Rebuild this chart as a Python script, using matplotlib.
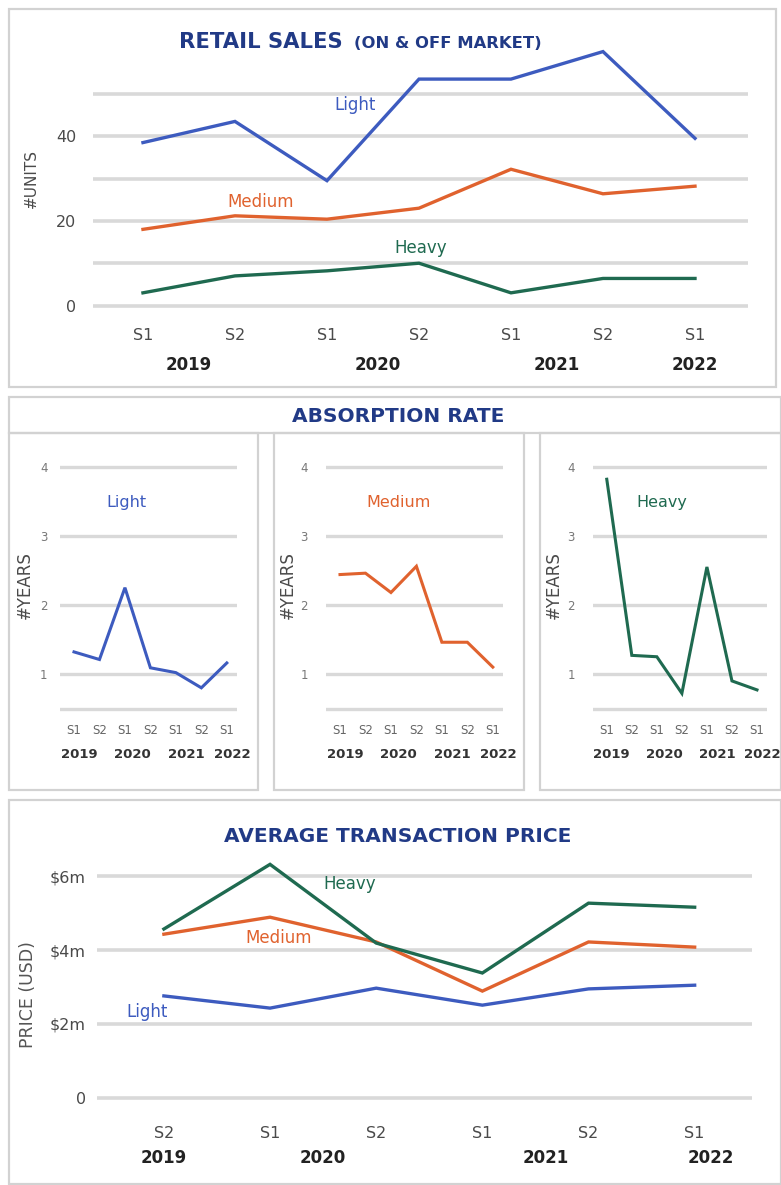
import matplotlib
matplotlib.use("Agg")
import matplotlib.pyplot as plt
from matplotlib.patches import Rectangle
import matplotlib.transforms as mtransforms

plt.rcParams['font.family'] = ['DejaVu Sans']

# ---------------- data ----------------
retail_ticks = ["S1", "S2", "S1", "S2", "S1", "S2", "S1"]
retail_years = ["2019", "2020", "2021", "2022"]
retail_year_pos = [0.5, 2.55, 4.5, 6.0]
retail_light = [38.5, 43.5, 29.5, 53.5, 53.5, 60.0, 39.5]
retail_medium = [18.0, 21.2, 20.4, 23.0, 32.2, 26.4, 28.2]
retail_heavy = [3.0, 7.0, 8.2, 10.0, 3.0, 6.4, 6.4]

abs_ticks = ["S1", "S2", "S1", "S2", "S1", "S2", "S1"]
abs_years = ["2019", "2020", "2021", "2022"]
abs_year_pos = [0.2, 2.3, 4.4, 6.2]
abs_light = [1.32, 1.21, 2.25, 1.09, 1.02, 0.80, 1.16]
abs_medium = [2.44, 2.46, 2.18, 2.56, 1.46, 1.46, 1.10]
abs_heavy = [3.82, 1.27, 1.25, 0.72, 2.55, 0.90, 0.77]

price_ticks = ["S2", "S1", "S2", "S1", "S2", "S1"]
price_years = ["2019", "2020", "2021", "2022"]
price_year_pos = [0.0, 1.5, 3.6, 5.15]
price_light = [2.76, 2.43, 2.97, 2.51, 2.95, 3.05]
price_medium = [4.43, 4.89, 4.22, 2.89, 4.22, 4.08]
price_heavy = [4.57, 6.32, 4.19, 3.38, 5.27, 5.16]

C_LIGHT = "#3d5bbf"
C_MED = "#e0622e"
C_HEAVY = "#1f6a50"
C_TITLE = "#213a86"
C_GRID = "#d9d9d9"
C_TICK = "#4a4a4a"
C_BOX = "#d2d2d2"

W, H = 781, 1185
fig = plt.figure(figsize=(W / 100, H / 100), dpi=100)
fig.patch.set_facecolor("white")


def rect(x0, y0, x1, y1):
    return [x0 / W, 1 - y1 / H, (x1 - x0) / W, (y1 - y0) / H]


def box(x0, y0, x1, y1):
    fig.patches.append(Rectangle((x0 / W, 1 - y1 / H), (x1 - x0) / W, (y1 - y0) / H,
                                 transform=fig.transFigure, fill=False,
                                 edgecolor=C_BOX, linewidth=1.6, zorder=0))


def style(ax):
    for s in ax.spines.values():
        s.set_visible(False)
    ax.tick_params(length=0)
    ax.set_facecolor("none")


# panel boxes
box(9, 9, 776, 387)
box(9, 397, 781, 433)
box(9, 433, 258, 790)
box(274, 433, 524, 790)
box(540, 433, 781, 790)
box(9, 800, 781, 1184)

# ---------------- top: retail sales ----------------
ax = fig.add_axes(rect(93, 41, 748, 314))
style(ax)
x = list(range(len(retail_ticks)))
ax.set_xlim(-0.543, 6.576)
ax.set_ylim(-2.0, 62.5)
for g in [0, 10, 20, 30, 40, 50]:
    ax.axhline(g, color=C_GRID, lw=2.6, zorder=1)
ax.plot(x, retail_light, color=C_LIGHT, lw=2.4, zorder=3, solid_joinstyle="miter")
ax.plot(x, retail_medium, color=C_MED, lw=2.4, zorder=3, solid_joinstyle="miter")
ax.plot(x, retail_heavy, color=C_HEAVY, lw=2.4, zorder=3, solid_joinstyle="miter")
ax.set_yticks([0, 20, 40])
ax.set_yticklabels(["0", "20", "40"], fontsize=11.5, color=C_TICK)
ax.tick_params(axis="y", pad=12)
ax.set_xticks(x)
ax.set_xticklabels(retail_ticks, fontsize=11.5, color=C_TICK)
ax.tick_params(axis="x", pad=10)
ax.set_ylabel("#UNITS", fontsize=11, color=C_TICK)
ax.yaxis.set_label_coords((39 - 93) / (748 - 93), (314 - 178) / (314 - 41))
tr = mtransforms.blended_transform_factory(ax.transData, fig.transFigure)
for yl, xp in zip(retail_years, retail_year_pos):
    ax.text(xp, 1 - 365 / H, yl, transform=tr, ha="center", va="center",
            fontsize=12, fontweight="bold", color="#222222")
ax.text(2.3, 47.3, "Light", color=C_LIGHT, fontsize=12, ha="center", va="center")
ax.text(1.28, 24.5, "Medium", color=C_MED, fontsize=12, ha="center", va="center")
ax.text(3.02, 13.5, "Heavy", color=C_HEAVY, fontsize=12, ha="center", va="center")
fig.text(350 / W, 1 - 42 / H, "RETAIL SALES ", ha="right", va="center",
         fontsize=15.2, fontweight="bold", color=C_TITLE)
fig.text(354 / W, 1 - 43 / H, "(ON & OFF MARKET)", ha="left", va="center",
         fontsize=11.8, fontweight="bold", color=C_TITLE)

# ---------------- middle: absorption rate ----------------
fig.text(398 / W, 1 - 416 / H, "ABSORPTION RATE", ha="center", va="center",
         fontsize=14.5, fontweight="bold", color=C_TITLE)

panels = [
    (60, 237, abs_light, C_LIGHT, "Light", 47, 34, 2.05),
    (326, 503, abs_medium, C_MED, "Medium", 309, 297, 2.3),
    (593, 767, abs_heavy, C_HEAVY, "Heavy", 576, 563, 2.2),
]
for (gx0, gx1, vals, col, name, lx, ylx, namex) in panels:
    a = fig.add_axes(rect(gx0, 453, gx1, 712))
    style(a)
    xs = list(range(len(abs_ticks)))
    a.set_xlim(-0.55, 6.4)
    a.set_ylim(0.45, 4.2)
    for g in [0.5, 1, 2, 3, 4]:
        a.axhline(g, color=C_GRID, lw=2.4, zorder=1)
    a.plot(xs, vals, color=col, lw=2.2, zorder=3, solid_joinstyle="miter")
    a.set_yticks([1, 2, 3, 4])
    a.set_yticklabels(["1", "2", "3", "4"], fontsize=8.5, color="#777777")
    a.tick_params(axis="y", pad=(gx0 - lx) - 4)
    a.set_xticks(xs)
    a.set_xticklabels(abs_ticks, fontsize=8.5, color="#666666")
    a.tick_params(axis="x", pad=9)
    a.set_ylabel("#YEARS", fontsize=12, color=C_TICK)
    a.yaxis.set_label_coords((ylx - gx0) / (gx1 - gx0), (712 - 585) / (712 - 453))
    tr = mtransforms.blended_transform_factory(a.transData, fig.transFigure)
    for yl, xp in zip(abs_years, abs_year_pos):
        a.text(xp, 1 - 755 / H, yl, transform=tr, ha="center", va="center",
               fontsize=9.5, fontweight="bold", color="#333333")
    a.text(namex, 3.49, name, color=col, fontsize=11.5, ha="center", va="center")

# ---------------- bottom: average transaction price ----------------
fig.text(398 / W, 1 - 836 / H, "AVERAGE TRANSACTION PRICE", ha="center", va="center",
         fontsize=14.5, fontweight="bold", color=C_TITLE)
ab = fig.add_axes(rect(97, 854, 752, 1109))
style(ab)
xs = list(range(len(price_ticks)))
ab.set_xlim(-0.63, 5.54)
ab.set_ylim(-0.3, 6.6)
for g in [0, 2, 4, 6]:
    ab.axhline(g, color=C_GRID, lw=2.6, zorder=1)
ab.plot(xs, price_light, color=C_LIGHT, lw=2.4, zorder=3, solid_joinstyle="miter")
ab.plot(xs, price_medium, color=C_MED, lw=2.4, zorder=3, solid_joinstyle="miter")
ab.plot(xs, price_heavy, color=C_HEAVY, lw=2.4, zorder=3, solid_joinstyle="miter")
ab.set_yticks([0, 2, 4, 6])
ab.set_yticklabels(["0", "$2m", "$4m", "$6m"], fontsize=11.5, color=C_TICK)
ab.tick_params(axis="y", pad=8)
ab.set_xticks(xs)
ab.set_xticklabels(price_ticks, fontsize=11.5, color=C_TICK)
ab.tick_params(axis="x", pad=12)
ab.set_ylabel("PRICE (USD)", fontsize=12.5, color="#555555")
ab.yaxis.set_label_coords((37 - 97) / (752 - 97), (1109 - 995) / (1109 - 854))
tr = mtransforms.blended_transform_factory(ab.transData, fig.transFigure)
for yl, xp in zip(price_years, price_year_pos):
    ab.text(xp, 1 - 1158 / H, yl, transform=tr, ha="center", va="center",
            fontsize=12, fontweight="bold", color="#222222")
ab.text(1.75, 5.78, "Heavy", color=C_HEAVY, fontsize=12, ha="center", va="center")
ab.text(1.08, 4.33, "Medium", color=C_MED, fontsize=12, ha="center", va="center")
ab.text(-0.16, 2.32, "Light", color=C_LIGHT, fontsize=12, ha="center", va="center")

fig.savefig("out.png", dpi=100, facecolor="white")
